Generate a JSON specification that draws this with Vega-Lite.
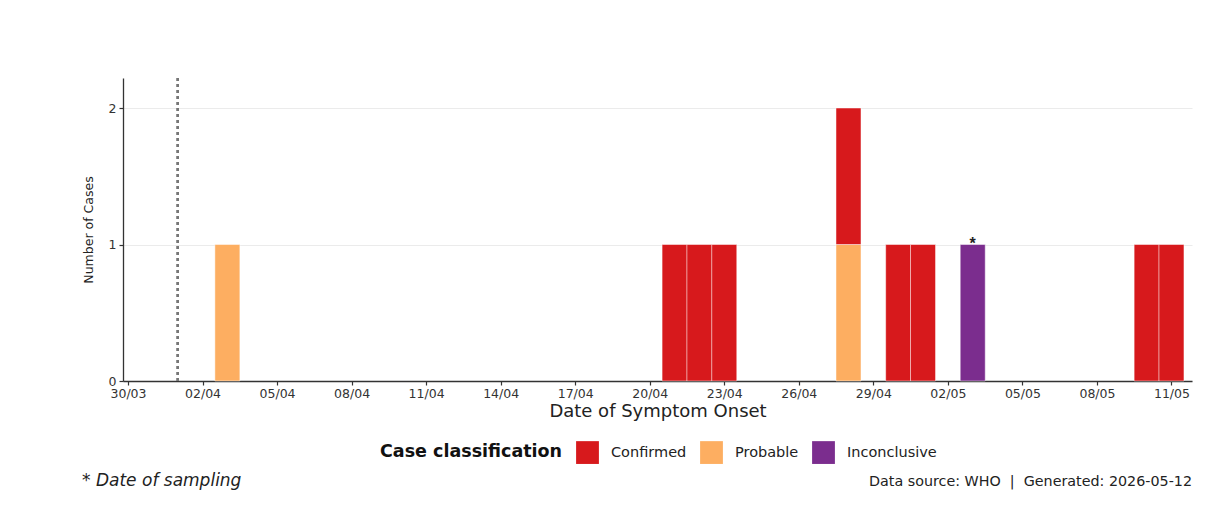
{
  "$schema": "https://vega.github.io/schema/vega-lite/v6.json",
  "background": "white",
  "padding": {"left": 82, "top": 77, "right": 18, "bottom": 10},
  "title": {"text": "Data source: WHO\u00a0\u00a0|\u00a0\u00a0Generated: 2026-05-12", "orient": "bottom", "anchor": "end", "font": "DejaVu Sans", "fontSize": 14.3, "fontWeight": "normal", "color": "#222", "dy": -18},
  "data": {"values": [
    {"date": "2026-04-03", "classification": "Probable", "cases": 1},
    {"date": "2026-04-21", "classification": "Confirmed", "cases": 1},
    {"date": "2026-04-22", "classification": "Confirmed", "cases": 1},
    {"date": "2026-04-23", "classification": "Confirmed", "cases": 1},
    {"date": "2026-04-28", "classification": "Probable", "cases": 1},
    {"date": "2026-04-28", "classification": "Confirmed", "cases": 1},
    {"date": "2026-04-30", "classification": "Confirmed", "cases": 1},
    {"date": "2026-05-01", "classification": "Confirmed", "cases": 1},
    {"date": "2026-05-03", "classification": "Inconclusive", "cases": 1, "note": "*"},
    {"date": "2026-05-10", "classification": "Confirmed", "cases": 1},
    {"date": "2026-05-11", "classification": "Confirmed", "cases": 1}
  ]},
  "vconcat": [{
    "width": 1069,
    "height": 303,
    "title": {"text": "* Date of sampling", "orient": "bottom", "anchor": "start", "font": "DejaVu Sans", "fontStyle": "italic", "fontSize": 17, "fontWeight": "normal", "color": "#222", "offset": 52},
    "layer": [
      {
        "mark": {"type": "bar", "size": 25, "stroke": "white", "strokeWidth": 0.8, "strokeOpacity": 0.6},
        "encoding": {
          "x": {
            "field": "date", "type": "temporal",
            "scale": {"type": "utc", "domain": [{"year": 2026, "month": 3, "date": 30, "utc": true}, {"year": 2026, "month": 5, "date": 11, "hours": 15, "utc": true}]},
            "axis": {
              "values": [
                {"year": 2026, "month": 3, "date": 30, "utc": true},
                {"year": 2026, "month": 4, "date": 2, "utc": true},
                {"year": 2026, "month": 4, "date": 5, "utc": true},
                {"year": 2026, "month": 4, "date": 8, "utc": true},
                {"year": 2026, "month": 4, "date": 11, "utc": true},
                {"year": 2026, "month": 4, "date": 14, "utc": true},
                {"year": 2026, "month": 4, "date": 17, "utc": true},
                {"year": 2026, "month": 4, "date": 20, "utc": true},
                {"year": 2026, "month": 4, "date": 23, "utc": true},
                {"year": 2026, "month": 4, "date": 26, "utc": true},
                {"year": 2026, "month": 4, "date": 29, "utc": true},
                {"year": 2026, "month": 5, "date": 2, "utc": true},
                {"year": 2026, "month": 5, "date": 5, "utc": true},
                {"year": 2026, "month": 5, "date": 8, "utc": true},
                {"year": 2026, "month": 5, "date": 11, "utc": true}
              ],
              "format": "%d/%m",
              "title": "Date of Symptom Onset",
              "titleFontSize": 18,
              "titlePadding": 3,
              "labelFontSize": 12.5,
              "labelPadding": 2,
              "grid": false,
              "labelFlush": false,
              "labelOverlap": false
            }
          },
          "y": {
            "field": "cases", "type": "quantitative",
            "scale": {"domain": [0, 2.22], "nice": false},
            "axis": {"values": [0, 1, 2], "format": "d", "title": "Number of Cases", "titleFontSize": 12.5, "titlePadding": 13, "labelFontSize": 12.5, "labelPadding": 3, "grid": true, "gridColor": "#ebebeb", "gridWidth": 1}
          },
          "color": {
            "field": "classification", "type": "nominal",
            "scale": {"domain": ["Confirmed", "Probable", "Inconclusive"], "range": ["#d7191c", "#fdae61", "#7b2d8e"]},
            "legend": {
              "title": "Case classification",
              "orient": "none", "legendX": 257, "legendY": 363,
              "direction": "horizontal", "titleOrient": "left",
              "titleFontSize": 17.5, "titleFontWeight": "bold", "titleColor": "#111", "titlePadding": 13, "titleLimit": 400,
              "labelFontSize": 14.5, "labelColor": "#222", "labelOffset": 12, "labelLimit": 300,
              "symbolType": "square", "symbolSize": 520, "symbolStrokeWidth": 0, "symbolOpacity": 1,
              "columnPadding": 13
            }
          },
          "order": {"field": "classification", "sort": "descending"}
        }
      },
      {
        "mark": {"type": "rule", "color": "#777", "strokeWidth": 1.6, "strokeDash": [3, 3]},
        "encoding": {"x": {"datum": {"year": 2026, "month": 4, "date": 1, "utc": true}, "type": "temporal"}}
      },
      {
        "transform": [{"filter": "datum.note"}],
        "mark": {"type": "text", "font": "Liberation Sans", "fontWeight": "bold", "fontSize": 16, "baseline": "alphabetic", "dy": 4, "color": "#222"},
        "encoding": {
          "x": {"field": "date", "type": "temporal"},
          "y": {"field": "cases", "type": "quantitative"},
          "text": {"field": "note"}
        }
      }
    ]
  }],
  "config": {
    "font": "DejaVu Sans",
    "view": {"stroke": null},
    "axis": {"domainColor": "#333", "domainWidth": 1.3, "tickColor": "#333", "tickWidth": 1.2, "tickSize": 4, "labelColor": "#333", "titleColor": "#222", "titleFontWeight": "normal", "labelFont": "DejaVu Sans", "titleFont": "DejaVu Sans"}
  }
}
